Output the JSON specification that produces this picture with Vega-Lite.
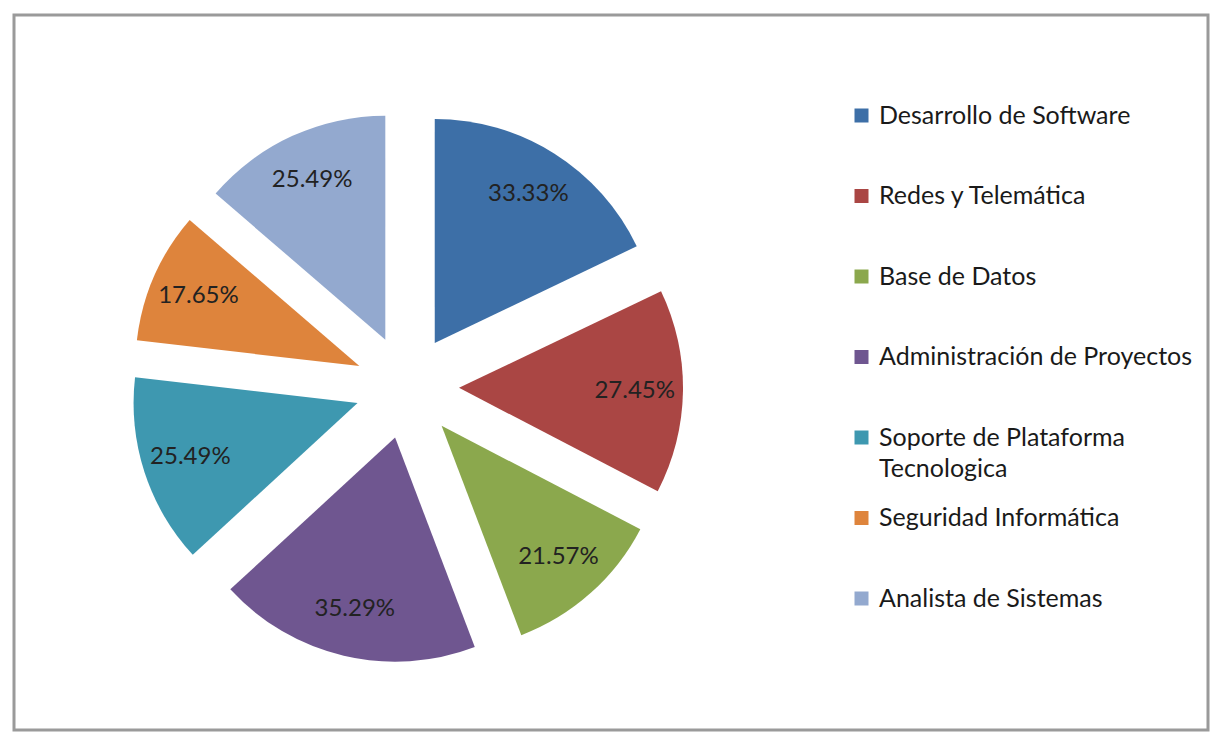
{
  "$schema": "https://vega.github.io/schema/vega-lite/v6.json",
  "width": 1194,
  "height": 715,
  "autosize": {"type": "none"},
  "padding": {"left": 14, "top": 15, "right": 2, "bottom": 3},
  "background": "white",
  "config": {
    "view": {"stroke": "#9a9a9a", "strokeWidth": 3},
    "font": "Lato",
    "style": {"guide-label": {"lineHeight": 31}}
  },
  "data": {
    "values": [
      {"category": "Desarrollo de Software", "value": 33.33},
      {"category": "Redes y Telemática", "value": 27.45},
      {"category": "Base de Datos", "value": 21.57},
      {"category": "Administración de Proyectos", "value": 35.29},
      {"category": "Soporte de Plataforma Tecnologica", "value": 25.49},
      {"category": "Seguridad Informática", "value": 17.65},
      {"category": "Analista de Sistemas", "value": 25.49}
    ]
  },
  "transform": [
    {"joinaggregate": [{"op": "sum", "field": "value", "as": "total"}]},
    {"window": [{"op": "sum", "field": "value", "as": "cum"}], "frame": [null, 0]},
    {"calculate": "datum.cum / datum.total", "as": "t1"},
    {"calculate": "(datum.cum - datum.value) / datum.total", "as": "t0"},
    {"calculate": "PI * (datum.t0 + datum.t1)", "as": "mid"},
    {"calculate": "sin(datum.mid)", "as": "ox"},
    {"calculate": "cos(datum.mid)", "as": "oy"},
    {"calculate": "4.38 * datum.ox", "as": "lx"},
    {"calculate": "4.38 * datum.oy", "as": "ly"},
    {"calculate": "format(datum.value, '.2f') + '%'", "as": "label"}
  ],
  "layer": [
    {
      "mark": {"type": "arc", "radius": 224, "innerRadius": 0, "strokeWidth": 0},
      "encoding": {
        "x": {"field": "ox", "type": "quantitative", "axis": null, "scale": {"domain": [-7.558, 15.404], "zero": false, "nice": false}},
        "y": {"field": "oy", "type": "quantitative", "axis": null, "scale": {"domain": [-6.596, 7.154], "zero": false, "nice": false}},
        "theta": {"field": "t0", "type": "quantitative", "stack": null, "scale": {"domain": [0, 1], "range": [0, 6.283185307]}},
        "theta2": {"field": "t1"},
        "color": {
          "field": "category",
          "type": "nominal",
          "sort": null,
          "scale": {
            "domain": ["Desarrollo de Software", "Redes y Telemática", "Base de Datos", "Administración de Proyectos", "Soporte de Plataforma Tecnologica", "Seguridad Informática", "Analista de Sistemas"],
            "range": ["#3d6fa7", "#aa4644", "#8ba84d", "#6f5690", "#3e98b0", "#de843c", "#93a9cf"]
          },
          "legend": {
            "title": null,
            "orient": "none",
            "legendX": 835,
            "legendY": 88,
            "symbolType": "square",
            "symbolSize": 196,
            "symbolStrokeWidth": 0,
            "labelFontSize": 25,
            "labelColor": "#1a1a1a",
            "labelFont": "Lato",
            "labelLimit": 500,
            "labelOffset": 5,
            "gridAlign": "all",
            "rowPadding": 23.5,
            "labelExpr": "datum.label == 'Soporte de Plataforma Tecnologica' ? ['Soporte de Plataforma', 'Tecnologica'] : datum.label"
          }
        }
      }
    },
    {
      "mark": {"type": "text", "fontSize": 24, "font": "Lato", "color": "#222222", "align": "center", "baseline": "middle"},
      "encoding": {
        "x": {"field": "lx", "type": "quantitative", "axis": null, "scale": {"domain": [-7.558, 15.404], "zero": false, "nice": false}},
        "y": {"field": "ly", "type": "quantitative", "axis": null, "scale": {"domain": [-6.596, 7.154], "zero": false, "nice": false}},
        "text": {"field": "label"}
      }
    }
  ]
}
